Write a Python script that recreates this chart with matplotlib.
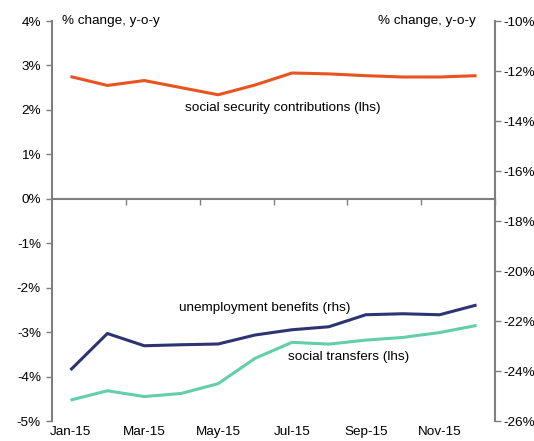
import numpy as np
import matplotlib.pyplot as plt
from matplotlib.ticker import FuncFormatter

plt.rcParams['font.family'] = ['Liberation Sans', 'DejaVu Sans']
plt.rcParams['font.size'] = 9.7

months = ['Jan-15', 'Feb-15', 'Mar-15', 'Apr-15', 'May-15', 'Jun-15',
          'Jul-15', 'Aug-15', 'Sep-15', 'Oct-15', 'Nov-15', 'Dec-15']
# lhs, % y-o-y
social_security = [2.75, 2.55, 2.66, 2.50, 2.34, 2.56, 2.83, 2.81, 2.77, 2.74, 2.74, 2.77]
social_transfers = [-4.53, -4.32, -4.45, -4.38, -4.16, -3.59, -3.23, -3.27, -3.18, -3.12, -3.01, -2.85]
# rhs, % y-o-y
unemployment = [-23.96, -22.50, -22.99, -22.95, -22.92, -22.56, -22.35, -22.23, -21.75, -21.71, -21.75, -21.36]

c_orange = '#E8531E'
c_navy = '#2E3372'
c_teal = '#62CFA8'
c_axis = '#7F7F7F'
fs = 9.7

fig = plt.figure(figsize=(5.34, 4.41), dpi=100)
ax = fig.add_axes([52 / 534, 1 - 421 / 441, (495 - 52) / 534, 400 / 441])
ax2 = ax.twinx()

x = np.arange(len(months))
ax.plot(x, social_security, color=c_orange, lw=2.2, solid_capstyle='butt')
ax.plot(x, social_transfers, color=c_teal, lw=2.2, solid_capstyle='butt')
ax2.plot(x, unemployment, color=c_navy, lw=2.2, solid_capstyle='butt')

ax.set_xlim(-0.5, len(months) - 0.5)
ax.set_ylim(-5, 4)
ax.set_yticks(np.arange(-5, 5, 1))
ax.yaxis.set_major_formatter(FuncFormatter(lambda v, p: '{:.0f}%'.format(v)))
ax2.set_ylim(-26, -10)
ax2.set_yticks(np.arange(-26, -9, 2))
ax2.yaxis.set_major_formatter(FuncFormatter(lambda v, p: '{:.0f}%'.format(v)))

# spines
for a in (ax, ax2):
    a.spines['top'].set_visible(False)
ax.spines['right'].set_visible(False)
ax2.spines['bottom'].set_visible(False)
ax2.spines['left'].set_visible(False)
ax.spines['left'].set_color(c_axis)
ax.spines['left'].set_linewidth(1.5)
ax2.spines['right'].set_color(c_axis)
ax2.spines['right'].set_linewidth(1.5)
ax.spines['bottom'].set_position(('data', 0))
ax.spines['bottom'].set_color(c_axis)
ax.spines['bottom'].set_linewidth(1.5)

ax.tick_params(axis='y', direction='out', length=4, color=c_axis, width=1, labelsize=fs, pad=4)
ax2.tick_params(axis='y', direction='out', length=4, color=c_axis, width=1, labelsize=fs, pad=2)
ax.set_xticks(np.arange(1.5, len(months), 2))
ax.tick_params(axis='x', direction='out', length=4, color=c_axis, width=1, labelbottom=False)

# month labels under the plot area
for i in range(0, len(months), 2):
    ax.text(x[i], -0.013, months[i], transform=ax.get_xaxis_transform(),
            ha='center', va='top', fontsize=fs)

ax.text(0.023, 1.0, '% change, y-o-y', transform=ax.transAxes, ha='left', va='center', fontsize=fs)
ax.text(0.957, 1.0, '% change, y-o-y', transform=ax.transAxes, ha='right', va='center', fontsize=fs)

ax.text(5.75, 2.04, 'social security contributions (lhs)', ha='center', va='center', fontsize=fs)
ax2.text(2.95, -21.46, 'unemployment benefits (rhs)', ha='left', va='center', fontsize=fs)
ax.text(5.9, -3.57, 'social transfers (lhs)', ha='left', va='center', fontsize=fs)

fig.savefig('out.png', dpi=100)
